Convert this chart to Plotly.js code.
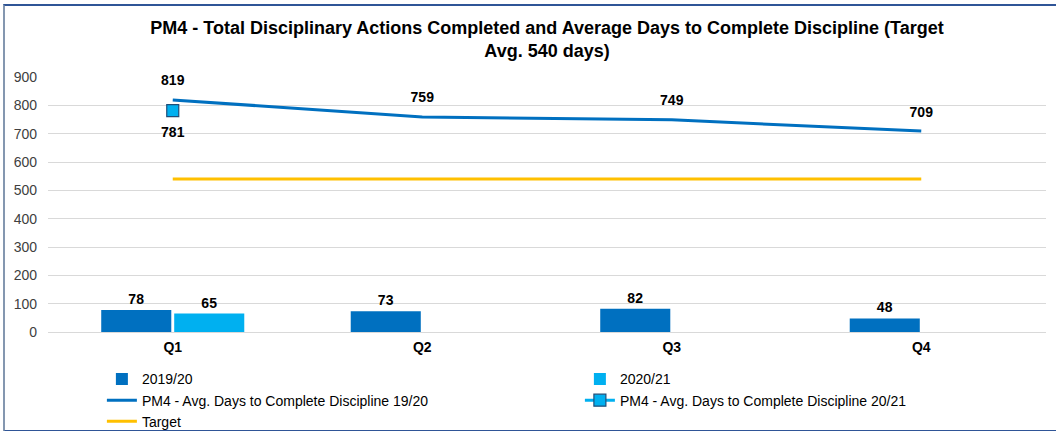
<!DOCTYPE html>
<html>
<head>
<meta charset="utf-8">
<script src="https://cdn.plot.ly/plotly-3.0.1.min.js"></script>
<style>
  html, body { margin: 0; padding: 0; background: #fff; }
  #wrap { position: relative; width: 1056px; height: 431px; overflow: hidden; }
  #chart { position: absolute; left: 0; top: 0; width: 1056px; height: 431px; }
  #frame { position: absolute; left: 3px; top: 4px; width: 1060px; height: 424px;
           border-top: 2px solid #2F5597; border-left: 2px solid #8497B0; border-bottom: 2px solid #2F5597;
           pointer-events: none; }
</style>
</head>
<body>
<div id="wrap">
  <div id="chart"></div>
  <div id="frame"></div>
</div>
<script>
const quarters = ['Q1', 'Q2', 'Q3', 'Q4'];
const actions1920 = [78, 73, 82, 48];
const actions2021 = [65, null, null, null];
const avgDays1920 = [819, 759, 749, 709];
const avgDays2021 = [781, null, null, null];
const target = [540, 540, 540, 540];
const titleText = 'PM4 - Total Disciplinary Actions Completed and Average Days to Complete Discipline (Target<br>Avg. 540 days)';

const sans = '"Liberation Sans", Arial, sans-serif';
const labelFont = { family: sans, size: 14, color: '#000000', weight: 'bold' };

const traces = [
  {
    type: 'bar', name: '2019/20', x: quarters, y: actions1920,
    marker: { color: '#0070C0' },
    text: actions1920.map(v => v == null ? '' : String(v)),
    textposition: 'outside', textfont: labelFont, cliponaxis: false,
    hoverinfo: 'skip'
  },
  {
    type: 'bar', name: '2020/21', x: quarters, y: actions2021,
    marker: { color: '#00B0F0' },
    text: actions2021.map(v => v == null ? '' : String(v)),
    textposition: 'outside', textfont: labelFont, cliponaxis: false,
    hoverinfo: 'skip'
  },
  {
    type: 'scatter', name: 'PM4 - Avg. Days to Complete Discipline 19/20', x: quarters, y: avgDays1920,
    mode: 'lines+markers+text',
    line: { color: '#0070C0', width: 3 },
    marker: { size: 16, color: 'rgba(0,0,0,0)' },
    text: avgDays1920.map(String), textposition: 'top center', textfont: labelFont,
    cliponaxis: false, hoverinfo: 'skip'
  },
  {
    type: 'scatter', name: 'PM4 - Avg. Days to Complete Discipline 20/21', x: quarters, y: avgDays2021,
    mode: 'lines+markers',
    line: { color: '#00B0F0', width: 3 },
    marker: { symbol: 'square', size: 12, color: '#00B0F0', line: { color: '#1F4E79', width: 1.2 } },
    cliponaxis: false, hoverinfo: 'skip'
  },
  {
    type: 'scatter', name: 'labels 20/21', showlegend: false, x: quarters, y: avgDays2021,
    mode: 'markers+text',
    marker: { size: 24, color: 'rgba(0,0,0,0)' },
    text: avgDays2021.map(v => v == null ? '' : String(v)), textposition: 'bottom center', textfont: labelFont,
    cliponaxis: false, hoverinfo: 'skip'
  },
  {
    type: 'scatter', name: 'Target', x: quarters, y: target,
    mode: 'lines',
    line: { color: '#FFC000', width: 3 },
    hoverinfo: 'skip'
  }
];

const layout = {
  width: 1056, height: 431,
  margin: { l: 48, r: 10, t: 77, b: 99, autoexpand: false },
  paper_bgcolor: '#ffffff', plot_bgcolor: '#ffffff',
  title: {
    text: titleText,
    font: { family: sans, size: 18, color: '#000000', weight: 'bold' },
    x: 0.5, xref: 'paper', xanchor: 'center',
    y: 0.922, yref: 'container', yanchor: 'top'
  },
  barmode: 'group', bargap: 0.415, bargroupgap: 0.04,
  showlegend: true,
  legend: {
    orientation: 'h', x: 0.054, xanchor: 'left', y: -0.123, yanchor: 'top',
    entrywidth: 433, entrywidthmode: 'pixels',
    font: { family: sans, size: 14, color: '#000000' },
    traceorder: 'normal', bgcolor: 'rgba(0,0,0,0)'
  },
  xaxis: {
    type: 'category', showgrid: false, zeroline: false, showline: false, ticks: '',
    ticklabelstandoff: 5,
    tickfont: { family: sans, size: 14, color: '#000000', weight: 'bold' }
  },
  yaxis: {
    range: [0, 900], dtick: 100, tick0: 0, showgrid: true, gridcolor: '#D9D9D9', gridwidth: 1,
    zeroline: true, zerolinecolor: '#D9D9D9', zerolinewidth: 1, showline: false, ticks: '',
    ticklabelstandoff: 10,
    tickfont: { family: sans, size: 14, color: '#404040' }
  }
};

Plotly.newPlot('chart', traces, layout, { staticPlot: true, displayModeBar: false });
</script>
</body>
</html>
